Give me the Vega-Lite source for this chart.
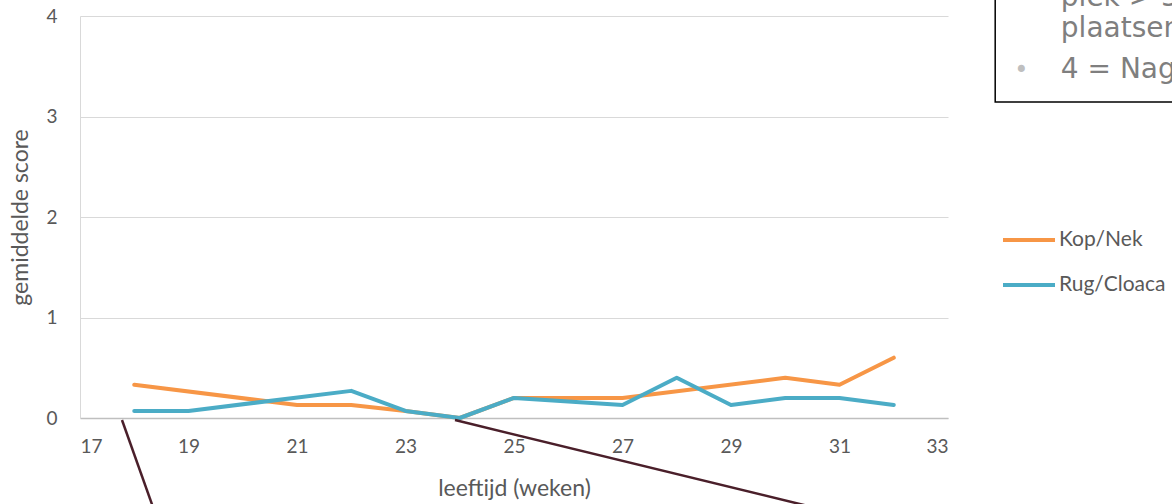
{
  "$schema": "https://vega.github.io/schema/vega-lite/v6.json",
  "width": 868,
  "height": 402,
  "autosize": {"type": "none"},
  "padding": {"left": 80, "top": 16, "right": 224, "bottom": 86},
  "background": "white",
  "config": {
    "view": {"stroke": null},
    "font": "Lato",
    "axis": {"labelFont": "Lato", "titleFont": "Lato", "labelColor": "#595959", "titleColor": "#595959", "labelFontSize": 19, "titleFontSize": 23, "titleFontWeight": "normal", "ticks": false, "gridColor": "#d9d9d9", "domainColor": "#bfbfbf"}
  },
  "datasets": {
    "series": [
      {"week": 18, "score": 0.33, "serie": "Kop/Nek"},
      {"week": 21, "score": 0.13, "serie": "Kop/Nek"},
      {"week": 22, "score": 0.13, "serie": "Kop/Nek"},
      {"week": 23, "score": 0.07, "serie": "Kop/Nek"},
      {"week": 24, "score": 0.0, "serie": "Kop/Nek"},
      {"week": 25, "score": 0.2, "serie": "Kop/Nek"},
      {"week": 27, "score": 0.2, "serie": "Kop/Nek"},
      {"week": 30, "score": 0.4, "serie": "Kop/Nek"},
      {"week": 31, "score": 0.33, "serie": "Kop/Nek"},
      {"week": 32, "score": 0.6, "serie": "Kop/Nek"},
      {"week": 18, "score": 0.07, "serie": "Rug/Cloaca"},
      {"week": 19, "score": 0.07, "serie": "Rug/Cloaca"},
      {"week": 22, "score": 0.27, "serie": "Rug/Cloaca"},
      {"week": 23, "score": 0.07, "serie": "Rug/Cloaca"},
      {"week": 24, "score": 0.0, "serie": "Rug/Cloaca"},
      {"week": 25, "score": 0.2, "serie": "Rug/Cloaca"},
      {"week": 27, "score": 0.13, "serie": "Rug/Cloaca"},
      {"week": 28, "score": 0.4, "serie": "Rug/Cloaca"},
      {"week": 29, "score": 0.13, "serie": "Rug/Cloaca"},
      {"week": 30, "score": 0.2, "serie": "Rug/Cloaca"},
      {"week": 31, "score": 0.2, "serie": "Rug/Cloaca"},
      {"week": 32, "score": 0.13, "serie": "Rug/Cloaca"}
    ],
    "pointers": [
      {"id": "a", "week": 17.774, "score": -0.02, "ord": 1},
      {"id": "a", "week": 18.43, "score": -1.015, "ord": 2},
      {"id": "b", "week": 23.912, "score": -0.02, "ord": 1},
      {"id": "b", "week": 31.48, "score": -1.015, "ord": 2}
    ],
    "box": [{"x1": 33.87, "x2": 40, "y1": 3.144, "y2": 4.6}],
    "boxtext": [
      {"t": "plek > 3 cm op meerdere", "week": 35.08, "score": 4.1},
      {"t": "plaatsen", "week": 35.08, "score": 3.791},
      {"t": "4 = Nagenoeg kaal", "week": 35.08, "score": 3.383}
    ],
    "bullet": [{"t": "•", "week": 34.35, "score": 3.45}]
  },
  "layer": [
    {
      "data": {"name": "box"},
      "mark": {"type": "rect", "fill": "white", "stroke": "black", "strokeWidth": 1.5, "clip": false},
      "encoding": {
        "x": {"field": "x1", "type": "quantitative", "scale": {"domain": [17, 33], "nice": false, "zero": false}},
        "x2": {"field": "x2"},
        "y": {"field": "y1", "type": "quantitative", "scale": {"domain": [0, 4], "nice": false}},
        "y2": {"field": "y2"}
      }
    },
    {
      "data": {"name": "boxtext"},
      "mark": {"type": "text", "font": "DejaVu Sans", "fontSize": 28, "color": "#7f7f7f", "align": "left", "baseline": "alphabetic", "clip": false},
      "encoding": {
        "x": {"field": "week", "type": "quantitative"},
        "y": {"field": "score", "type": "quantitative"},
        "text": {"field": "t"}
      }
    },
    {
      "data": {"name": "bullet"},
      "mark": {"type": "text", "font": "DejaVu Sans", "fontSize": 24, "color": "#bfbfbf", "align": "center", "baseline": "middle", "clip": false},
      "encoding": {
        "x": {"field": "week", "type": "quantitative"},
        "y": {"field": "score", "type": "quantitative"},
        "text": {"field": "t"}
      }
    },
    {
      "data": {"name": "series"},
      "mark": {"type": "line", "strokeWidth": 4, "strokeCap": "round", "strokeJoin": "round"},
      "encoding": {
        "x": {"field": "week", "type": "quantitative", "title": "leeftijd (weken)",
          "axis": {"values": [17, 19, 21, 23, 25, 27, 29, 31, 33], "grid": false, "labelPadding": 19, "titlePadding": 21, "domainWidth": 1.5}},
        "y": {"field": "score", "type": "quantitative", "title": "gemiddelde score",
          "axis": {"values": [0, 1, 2, 3, 4], "format": "d", "labelPadding": 23, "titlePadding": 13, "domain": true, "domainColor": "#d9d9d9"}},
        "color": {"field": "serie", "type": "nominal",
          "scale": {"domain": ["Kop/Nek", "Rug/Cloaca"], "range": ["#f79646", "#4bacc6"]},
          "legend": {"title": null, "orient": "none", "legendX": 921, "legendY": 196, "symbolType": "stroke", "symbolSize": 2704, "symbolStrokeWidth": 4, "labelFontSize": 21, "labelFont": "Lato", "labelColor": "#595959", "rowPadding": 7, "labelOffset": 2}}
      }
    },
    {
      "data": {"name": "pointers"},
      "mark": {"type": "line", "color": "#4a1f2a", "strokeWidth": 2.5, "clip": false},
      "encoding": {
        "x": {"field": "week", "type": "quantitative"},
        "y": {"field": "score", "type": "quantitative"},
        "detail": {"field": "id"},
        "order": {"field": "ord"}
      }
    }
  ]
}
